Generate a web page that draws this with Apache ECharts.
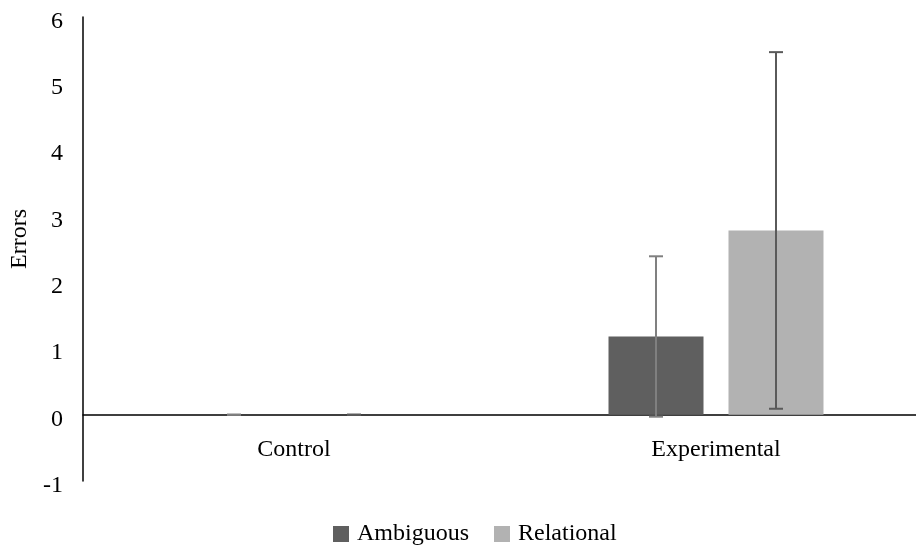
<!DOCTYPE html>
<html>
<head>
<meta charset="utf-8">
<script src="https://cdn.jsdelivr.net/npm/echarts@6/dist/echarts.min.js"></script>
<style>
  html, body { margin: 0; padding: 0; background: #fff; }
  #chart { width: 916px; height: 548px; }
</style>
</head>
<body>
<div id="chart"></div>
<script>
// Group labels and series
const categories = ['Control', 'Experimental'];
const seriesNames = ['Ambiguous', 'Relational'];

// Mean errors per group
const ambiguousMeans = [0, 1.18];
const relationalMeans = [0, 2.78];

// Error bar half-widths (±)
const ambiguousErr = [0, 1.21];
const relationalErr = [0, 2.69];

// Value axis range
const yMin = -1;
const yMax = 6;
const yStep = 1;

const FONT = '"Liberation Serif", "Times New Roman", serif';
const FONT_SIZE = 24;
const BAR_W = 95;
const BAR_GAP = 25;
const OFFSET = (BAR_W + BAR_GAP) / 2;

// Plot box: the category band runs past the right edge of the canvas
const GRID = { left: 83, right: -11, top: 17, bottom: 67 };
const PLOT_H = 548 - GRID.top - GRID.bottom;
// Distance from the bottom of the plot to the zero line
const ZERO_SHIFT = PLOT_H * (0 - yMin) / (yMax - yMin);

function errorSeries(name, means, errs, shift, color) {
  const data = categories.map((c, i) => [i, means[i], errs[i]]);
  return {
    type: 'custom',
    name: name + ' error',
    data: data,
    z: 10,
    silent: true,
    encode: { x: 0, y: 1 },
    renderItem: function (params, api) {
      const idx = api.value(0);
      const m = api.value(1);
      const e = api.value(2);
      const hi = api.coord([idx, m + e]);
      const lo = api.coord([idx, m - e]);
      const x = hi[0] + shift;
      const cap = 7;
      const style = { stroke: color, lineWidth: 2 };
      return {
        type: 'group',
        children: [
          { type: 'line', shape: { x1: x, y1: hi[1], x2: x, y2: lo[1] }, style: style },
          { type: 'line', shape: { x1: x - cap, y1: hi[1], x2: x + cap, y2: hi[1] }, style: style },
          { type: 'line', shape: { x1: x - cap, y1: lo[1], x2: x + cap, y2: lo[1] }, style: style }
        ]
      };
    }
  };
}

const chart = echarts.init(document.getElementById('chart'), null, { renderer: 'canvas' });
chart.setOption({
  animation: false,
  backgroundColor: '#ffffff',
  textStyle: { fontFamily: FONT, color: '#000' },
  grid: {
    left: GRID.left, right: GRID.right, top: GRID.top, bottom: GRID.bottom,
    containLabel: false, outerBoundsMode: 'none'
  },
  legend: {
    data: seriesNames,
    left: 333,
    top: 522,
    padding: 0,
    itemWidth: 16,
    itemHeight: 16,
    itemGap: 25,
    icon: 'rect',
    textStyle: { fontFamily: FONT, fontSize: FONT_SIZE, color: '#000', padding: [0, 0, 0, 3] }
  },
  xAxis: {
    type: 'category',
    data: categories,
    offset: -ZERO_SHIFT,
    axisLine: { onZero: false, lineStyle: { color: '#000', width: 1.5 } },
    axisTick: { show: false },
    axisLabel: { fontFamily: FONT, fontSize: FONT_SIZE, color: '#000', margin: 23 },
    splitLine: { show: false }
  },
  yAxis: {
    type: 'value',
    min: yMin,
    max: yMax,
    interval: yStep,
    name: 'Errors',
    nameLocation: 'middle',
    nameGap: 40,
    nameTextStyle: { fontFamily: FONT, fontSize: FONT_SIZE, color: '#000', padding: [0, 0, 0, 20] },
    axisLine: { show: true, lineStyle: { color: '#000', width: 1.5 } },
    axisTick: { show: false },
    axisLabel: {
      fontFamily: FONT, fontSize: FONT_SIZE, color: '#000', margin: 20,
      verticalAlign: 'top', lineHeight: 9
    },
    splitLine: { show: false }
  },
  series: [
    {
      name: seriesNames[0],
      type: 'bar',
      data: ambiguousMeans,
      barWidth: BAR_W,
      barGap: (BAR_GAP / BAR_W * 100).toFixed(1) + '%',
      itemStyle: { color: '#5f5f5f' }
    },
    {
      name: seriesNames[1],
      type: 'bar',
      data: relationalMeans,
      barWidth: BAR_W,
      itemStyle: { color: '#b2b2b2' }
    },
    errorSeries(seriesNames[0], ambiguousMeans, ambiguousErr, -OFFSET, '#808080'),
    errorSeries(seriesNames[1], relationalMeans, relationalErr, OFFSET, '#5a5a5a')
  ]
});
</script>
</body>
</html>
